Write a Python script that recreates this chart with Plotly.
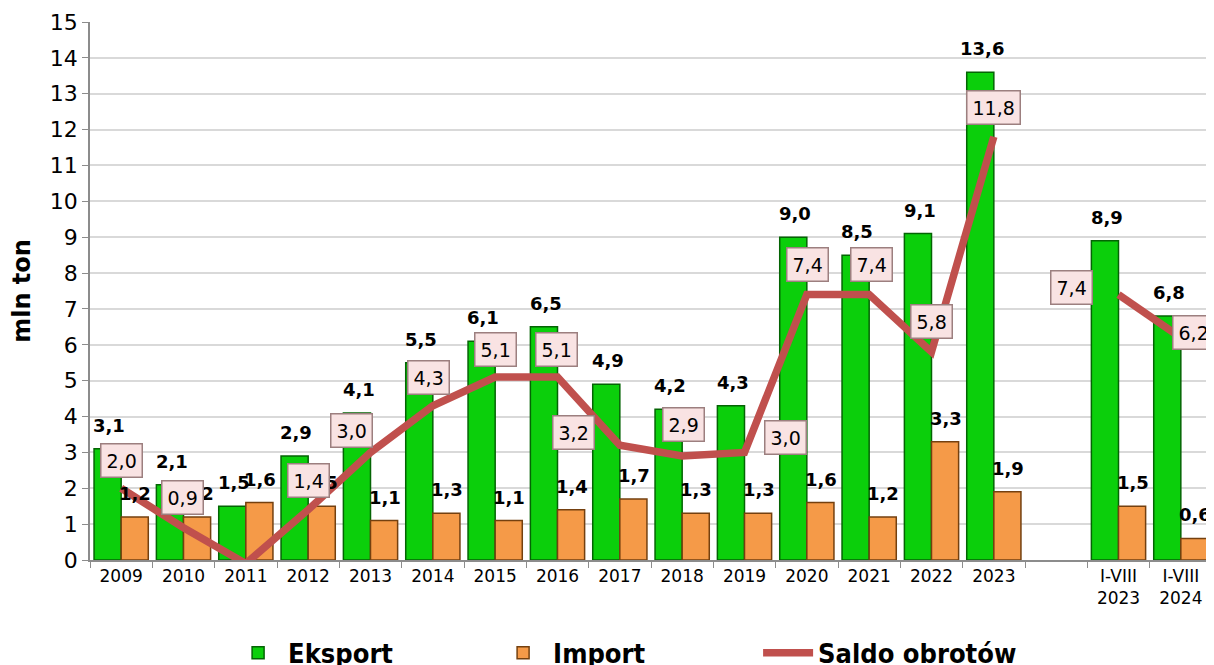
import plotly.graph_objects as go

categories = ["2009", "2010", "2011", "2012", "2013", "2014", "2015", "2016", "2017",
              "2018", "2019", "2020", "2021", "2022", "2023", "", "I-VIII 2023", "I-VIII 2024"]
tick_labels = ["2009", "2010", "2011", "2012", "2013", "2014", "2015", "2016", "2017",
               "2018", "2019", "2020", "2021", "2022", "2023", "", "I-VIII<br>2023", "I-VIII<br>2024"]
eksport = [3.1, 2.1, 1.5, 2.9, 4.1, 5.5, 6.1, 6.5, 4.9, 4.2, 4.3, 9.0, 8.5, 9.1, 13.6, None, 8.9, 6.8]
import_ = [1.2, 1.2, 1.6, 1.5, 1.1, 1.3, 1.1, 1.4, 1.7, 1.3, 1.3, 1.6, 1.2, 3.3, 1.9, None, 1.5, 0.6]
saldo = [2.0, 0.9, -0.1, 1.4, 3.0, 4.3, 5.1, 5.1, 3.2, 2.9, 3.0, 7.4, 7.4, 5.8, 11.8, None, 7.4, 6.2]
saldo_shown = [True, True, False, True, True, True, True, True, True, True, True, True, True, True, True, False, True, True]

# label box offsets in px (style, not data)
saldo_off = [(0, 28), (-1, 30), (0, 0), (0, 29), (-19, 22), (-4, 28), (0, 28), (-1, 28), (-46, 13),
             (1, 31), (41, 15), (1, 30), (2, 30), (0, 30), (0, 29), (0, 0), (-47, 7), (13, 5)]

def fmt(v):
    return f"{v:.1f}".replace(".", ",")

FONT = "DejaVu Sans"
xpos = list(range(len(categories)))

fig = go.Figure()
fig.add_trace(go.Bar(
    name="Eksport", x=xpos, y=eksport,
    marker=dict(color="#0bcf0b", line=dict(color="#046404", width=1.5)),
))
fig.add_trace(go.Bar(
    name="Import", x=xpos, y=import_,
    marker=dict(color="#f59a48", line=dict(color="#74400f", width=1.5)),
))
fig.add_trace(go.Scatter(
    name="Saldo obrotów", x=xpos, y=saldo, mode="lines",
    line=dict(color="#c0504d", width=7.5), connectgaps=False,
))

annotations = []
for i, v in zip(xpos, eksport):
    if v is None:
        continue
    annotations.append(dict(x=i, y=v, xref="x", yref="y", text=f"<b>{fmt(v)}</b>", showarrow=False,
                            xshift=-12, yshift=11, yanchor="bottom",
                            font=dict(family=FONT, size=18, color="black")))
for i, v in zip(xpos, import_):
    if v is None:
        continue
    annotations.append(dict(x=i, y=v, xref="x", yref="y", text=f"<b>{fmt(v)}</b>", showarrow=False,
                            xshift=14, yshift=11, yanchor="bottom",
                            font=dict(family=FONT, size=18, color="black")))
for i, v, show, (dx, dy) in zip(xpos, saldo, saldo_shown, saldo_off):
    if v is None or not show:
        continue
    annotations.append(dict(x=i, y=v, xref="x", yref="y", text=fmt(v), showarrow=False,
                            xshift=dx, yshift=dy, yanchor="middle", xanchor="center",
                            bgcolor="#f9e3e3", bordercolor="#9c7f7f", borderwidth=1.5, borderpad=5,
                            font=dict(family=FONT, size=19, color="black")))

fig.update_layout(
    width=1206, height=657,
    margin=dict(l=82, r=2, t=14, b=105, autoexpand=False),
    paper_bgcolor="white", plot_bgcolor="white",
    barmode="group", bargap=0.13, bargroupgap=0,
    font=dict(family=FONT, color="black"),
    annotations=annotations,
    showlegend=True,
    legend=dict(orientation="h", xref="container", yref="container", x=0.1825, y=0.018,
                xanchor="left", yanchor="middle",
                font=dict(family="DejaVu Sans Condensed", size=27, color="black", weight="bold"),
                entrywidth=200, entrywidthmode="pixels", itemwidth=50, traceorder="normal"),
)
fig.update_xaxes(
    range=[-0.5, len(categories) - 0.5],
    tickmode="array", tickvals=xpos, ticktext=tick_labels, ticks="",
    minor=dict(tickmode="linear", tick0=-0.5, dtick=1, ticks="outside", ticklen=6,
               tickcolor="#8c8c8c", showgrid=False),
    showline=True, linecolor="#8c8c8c", linewidth=1.5,
    tickfont=dict(family=FONT, size=17, color="black"),
    showgrid=False, zeroline=False, automargin=False,
)
fig.update_yaxes(
    range=[0, 15], dtick=1, ticks="outside", ticklen=6, tickcolor="#8c8c8c",
    showline=True, linecolor="#8c8c8c", linewidth=1.5,
    gridcolor="#d9d9d9", gridwidth=1.5,
    tickfont=dict(family=FONT, size=22, color="black"),
    title=dict(text="<b>mln ton</b>", font=dict(family=FONT, size=24, color="black")),
    zeroline=False, automargin=False,
)

fig.write_html("out.html")
